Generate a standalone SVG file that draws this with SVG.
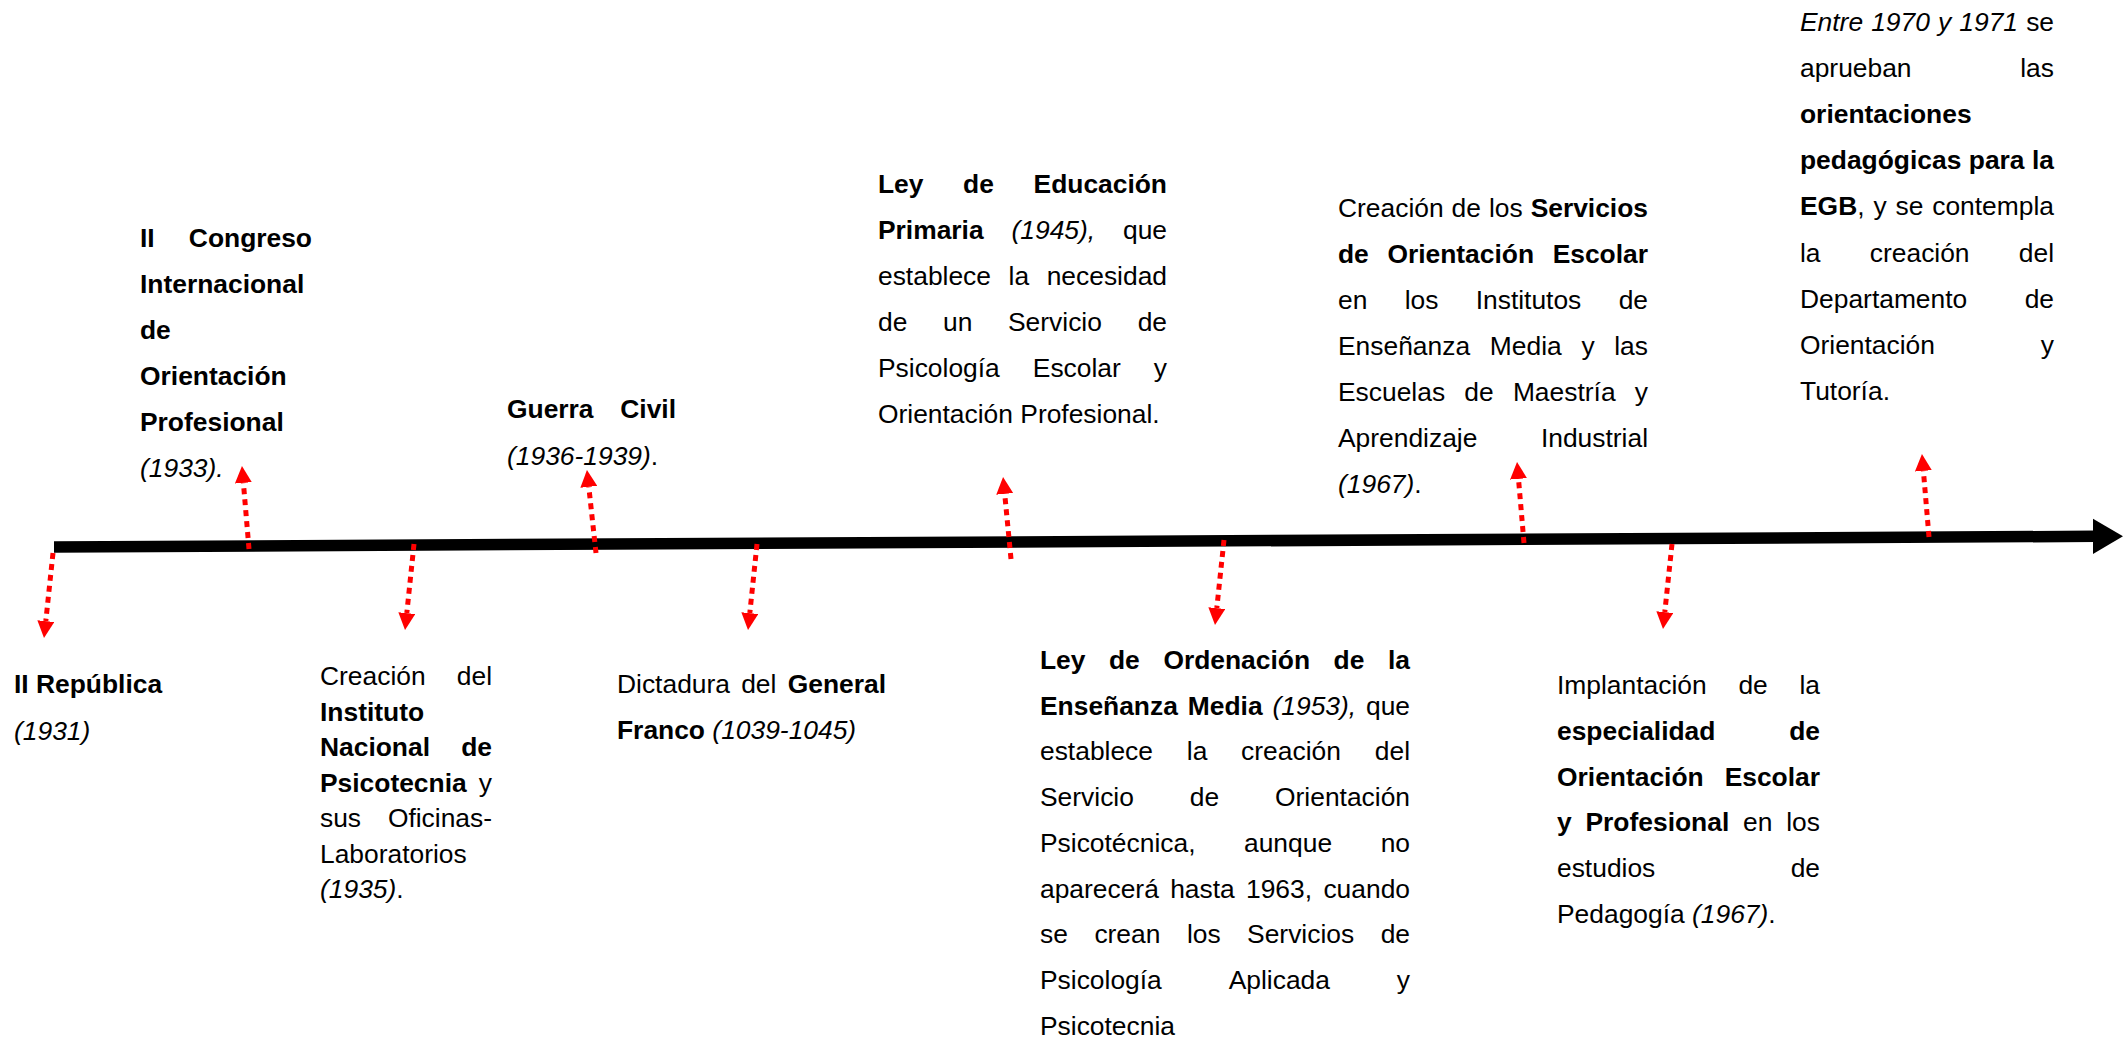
<svg xmlns="http://www.w3.org/2000/svg" width="2125" height="1039" viewBox="0 0 2125 1039">
<style>
text{font-family:"Liberation Sans",Arial,sans-serif;font-size:26.4px;fill:#000}
.b{font-weight:bold}
.i{font-style:italic}
.r{font-weight:normal;font-style:normal}
.dot{stroke:#ff0000;stroke-width:5;stroke-dasharray:6 5;fill:none;marker-end:url(#ah)}
</style>
<defs>
<marker id="ah" viewBox="0 0 17 17" refX="0" refY="8.5" markerWidth="17" markerHeight="17" markerUnits="userSpaceOnUse" orient="auto">
<path d="M0,0 L17,8.5 L0,17 z" fill="#ff0000"/>
</marker>
</defs>
<rect width="2125" height="1039" fill="#fff"/>

<g id="timeline">
<line x1="54" y1="547" x2="2095" y2="536.3" stroke="#000" stroke-width="11.5"/>
<polygon points="2093,518.8 2123,536.2 2093,554" fill="#000"/>
</g>

<g id="connectors">
<line class="dot" x1="53" y1="553" x2="45.8" y2="621.1"/>
<line class="dot" x1="249" y1="549" x2="243.4" y2="482.9"/>
<line class="dot" x1="414" y1="544" x2="406.8" y2="613.1"/>
<line class="dot" x1="596" y1="553" x2="588.8" y2="486.9"/>
<line class="dot" x1="757" y1="544" x2="749.8" y2="613.1"/>
<line class="dot" x1="1011" y1="559" x2="1004.7" y2="493.9"/>
<line class="dot" x1="1224" y1="540" x2="1216.8" y2="608.1"/>
<line class="dot" x1="1524" y1="543" x2="1518.5" y2="478.9"/>
<line class="dot" x1="1672" y1="544" x2="1664.8" y2="612.1"/>
<line class="dot" x1="1929" y1="537" x2="1923.4" y2="470.9"/>
</g>

<g id="n1931">
<text class="b" x="14" y="693">II República</text>
<text class="i" x="14" y="740">(1931)</text>
</g>

<g id="n1933">
<text class="b" y="247"><tspan x="140">II</tspan><tspan x="312" text-anchor="end">Congreso</tspan></text>
<text class="b" x="140" y="293">Internacional</text>
<text class="b" x="140" y="339">de</text>
<text class="b" x="140" y="385">Orientación</text>
<text class="b" x="140" y="431">Profesional</text>
<text class="i" x="140" y="477">(1933).</text>
</g>

<g id="n1935">
<text y="685"><tspan x="320">Creación</tspan><tspan x="492" text-anchor="end">del</tspan></text>
<text class="b" x="320" y="720.5">Instituto</text>
<text class="b" y="756"><tspan x="320">Nacional</tspan><tspan x="492" text-anchor="end">de</tspan></text>
<text y="791.5"><tspan x="320" class="b">Psicotecnia</tspan><tspan x="492" text-anchor="end">y</tspan></text>
<text y="827"><tspan x="320">sus</tspan><tspan x="492" text-anchor="end">Oficinas-</tspan></text>
<text x="320" y="862.5">Laboratorios</text>
<text x="320" y="898"><tspan class="i">(1935)</tspan>.</text>
</g>

<g id="n1936">
<text class="b" y="418"><tspan x="507">Guerra</tspan><tspan x="676" text-anchor="end">Civil</tspan></text>
<text x="507" y="465"><tspan class="i">(1936-1939)</tspan>.</text>
</g>

<g id="n1939">
<text y="693"><tspan x="617">Dictadura</tspan><tspan x="741.2">del</tspan><tspan x="886" text-anchor="end" class="b">General</tspan></text>
<text x="617" y="739"><tspan class="b">Franco</tspan> <tspan class="i">(1039-1045)</tspan></text>
</g>

<g id="n1945">
<text class="b" y="193"><tspan x="878">Ley</tspan><tspan x="963.1">de</tspan><tspan x="1167" text-anchor="end">Educación</tspan></text>
<text y="239"><tspan x="878" class="b">Primaria</tspan><tspan x="1011.5" class="i">(1945),</tspan><tspan x="1167" text-anchor="end">que</tspan></text>
<text y="285"><tspan x="878">establece</tspan><tspan x="1008.6">la</tspan><tspan x="1167" text-anchor="end">necesidad</tspan></text>
<text y="331"><tspan x="878">de</tspan><tspan x="943">un</tspan><tspan x="1008">Servicio</tspan><tspan x="1167" text-anchor="end">de</tspan></text>
<text y="377"><tspan x="878">Psicología</tspan><tspan x="1032.8">Escolar</tspan><tspan x="1167" text-anchor="end">y</tspan></text>
<text x="878" y="423">Orientación Profesional.</text>
</g>

<g id="n1953">
<text class="b" y="669"><tspan x="1040">Ley</tspan><tspan x="1109">de</tspan><tspan x="1163.4">Ordenación</tspan><tspan x="1333.6">de</tspan><tspan x="1410" text-anchor="end">la</tspan></text>
<text y="714.7"><tspan x="1040" class="b">Enseñanza</tspan><tspan x="1187.8" class="b">Media</tspan><tspan x="1272.5" class="i">(1953),</tspan><tspan x="1410" text-anchor="end">que</tspan></text>
<text y="760.4"><tspan x="1040">establece</tspan><tspan x="1186.8">la</tspan><tspan x="1241.1">creación</tspan><tspan x="1410" text-anchor="end">del</tspan></text>
<text y="806.1"><tspan x="1040">Servicio</tspan><tspan x="1189.8">de</tspan><tspan x="1410" text-anchor="end">Orientación</tspan></text>
<text y="851.8"><tspan x="1040">Psicotécnica,</tspan><tspan x="1244">aunque</tspan><tspan x="1410" text-anchor="end">no</tspan></text>
<text y="897.5"><tspan x="1040">aparecerá</tspan><tspan x="1170.2">hasta</tspan><tspan x="1246">1963,</tspan><tspan x="1410" text-anchor="end">cuando</tspan></text>
<text y="943.2"><tspan x="1040">se</tspan><tspan x="1094.4">crean</tspan><tspan x="1186.9">los</tspan><tspan x="1247.1">Servicios</tspan><tspan x="1410" text-anchor="end">de</tspan></text>
<text y="988.9"><tspan x="1040">Psicología</tspan><tspan x="1228.7">Aplicada</tspan><tspan x="1410" text-anchor="end">y</tspan></text>
<text x="1040" y="1034.6">Psicotecnia</text>
</g>

<g id="n1967a">
<text y="217"><tspan x="1338">Creación</tspan><tspan x="1451.6">de</tspan><tspan x="1489">los</tspan><tspan x="1648" text-anchor="end" class="b">Servicios</tspan></text>
<text class="b" y="263"><tspan x="1338">de</tspan><tspan x="1387.4">Orientación</tspan><tspan x="1648" text-anchor="end">Escolar</tspan></text>
<text y="309"><tspan x="1338">en</tspan><tspan x="1404.7">los</tspan><tspan x="1475.7">Institutos</tspan><tspan x="1648" text-anchor="end">de</tspan></text>
<text y="355"><tspan x="1338">Enseñanza</tspan><tspan x="1489.8">Media</tspan><tspan x="1581.4">y</tspan><tspan x="1648" text-anchor="end">las</tspan></text>
<text y="401"><tspan x="1338">Escuelas</tspan><tspan x="1464.3">de</tspan><tspan x="1512.9">Maestría</tspan><tspan x="1648" text-anchor="end">y</tspan></text>
<text y="447"><tspan x="1338">Aprendizaje</tspan><tspan x="1648" text-anchor="end">Industrial</tspan></text>
<text x="1338" y="493"><tspan class="i">(1967)</tspan>.</text>
</g>

<g id="n1967b">
<text y="694"><tspan x="1557">Implantación</tspan><tspan x="1738.4">de</tspan><tspan x="1820" text-anchor="end">la</tspan></text>
<text class="b" y="739.8"><tspan x="1557">especialidad</tspan><tspan x="1820" text-anchor="end">de</tspan></text>
<text class="b" y="785.6"><tspan x="1557">Orientación</tspan><tspan x="1820" text-anchor="end">Escolar</tspan></text>
<text y="831.4"><tspan x="1557" class="b">y</tspan><tspan x="1585.5" class="b">Profesional</tspan><tspan x="1743.1">en</tspan><tspan x="1820" text-anchor="end">los</tspan></text>
<text y="877.2"><tspan x="1557">estudios</tspan><tspan x="1820" text-anchor="end">de</tspan></text>
<text x="1557" y="923">Pedagogía <tspan class="i">(1967)</tspan>.</text>
</g>

<g id="n1970">
<text y="31"><tspan x="1800" class="i">Entre</tspan><tspan x="1871.2" class="i">1970</tspan><tspan x="1938" class="i">y</tspan><tspan x="1959.3" class="i">1971</tspan><tspan x="2054" text-anchor="end">se</tspan></text>
<text y="77.1"><tspan x="1800">aprueban</tspan><tspan x="2054" text-anchor="end">las</tspan></text>
<text class="b" x="1800" y="123.2">orientaciones</text>
<text class="b" y="169.3"><tspan x="1800">pedagógicas</tspan><tspan x="1968.8">para</tspan><tspan x="2054" text-anchor="end">la</tspan></text>
<text y="215.4"><tspan x="1800"><tspan class="b">EGB</tspan>,</tspan><tspan x="1873.4">y</tspan><tspan x="1895.5">se</tspan><tspan x="2054" text-anchor="end">contempla</tspan></text>
<text y="261.5"><tspan x="1800">la</tspan><tspan x="1869.8">creación</tspan><tspan x="2054" text-anchor="end">del</tspan></text>
<text y="307.6"><tspan x="1800">Departamento</tspan><tspan x="2054" text-anchor="end">de</tspan></text>
<text y="353.7"><tspan x="1800">Orientación</tspan><tspan x="2054" text-anchor="end">y</tspan></text>
<text x="1800" y="399.8">Tutoría.</text>
</g>
</svg>
